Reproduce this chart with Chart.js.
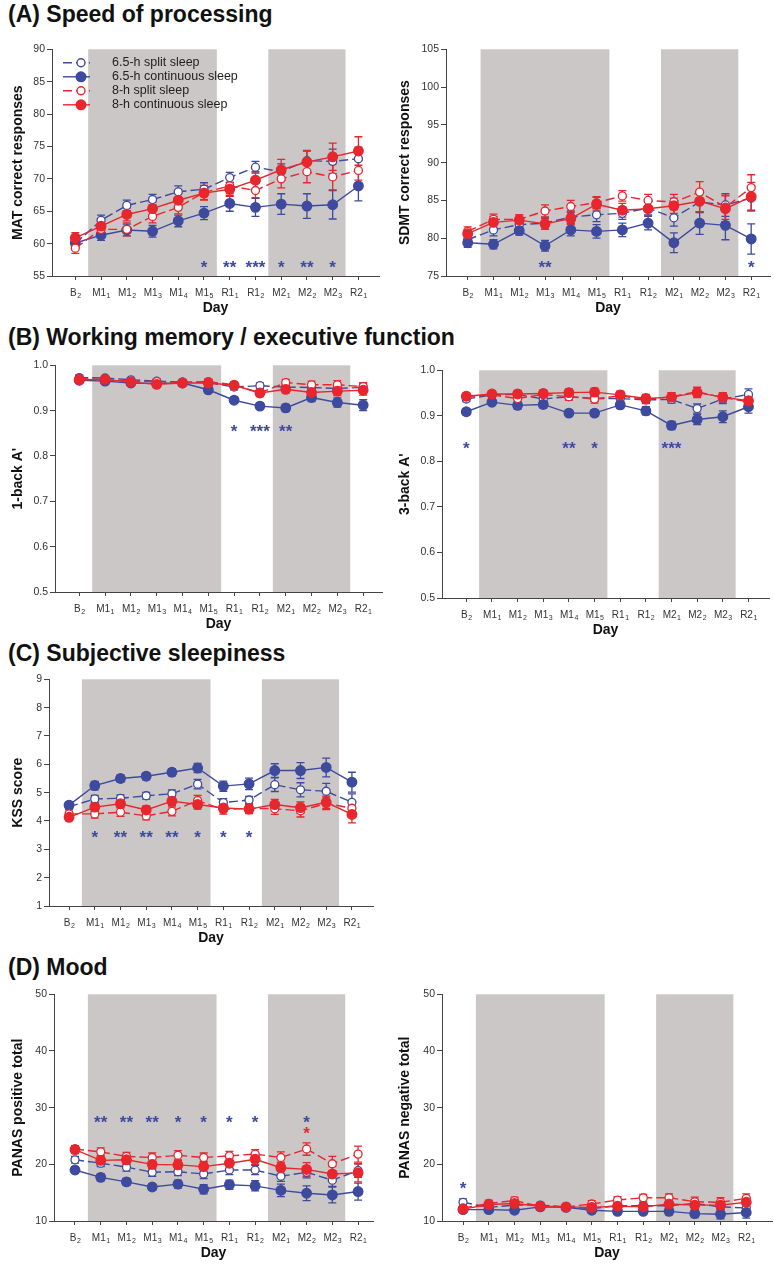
<!DOCTYPE html>
<html>
<head>
<meta charset="utf-8">
<script src="https://cdn.jsdelivr.net/npm/chart.js@4.4.0/dist/chart.umd.min.js"></script>
<style>
  body { margin: 0; background: #fff; width: 774px; height: 1266px; position: relative; overflow: hidden;
         font-family: "Liberation Sans", Arial, sans-serif; }
  .title { position: absolute; left: 8px; font-weight: bold; font-size: 23px; line-height: 23px; color: #111; white-space: nowrap; }
  canvas { position: absolute; }
</style>
</head>
<body>
<div class="title" style="top:3px">(A) Speed of processing</div>
<div class="title" style="top:326px">(B) Working memory / executive function</div>
<div class="title" style="top:642px">(C) Subjective sleepiness</div>
<div class="title" style="top:956px">(D) Mood</div>
<canvas id="mat"></canvas>
<canvas id="sdmt"></canvas>
<canvas id="oneback"></canvas>
<canvas id="threeback"></canvas>
<canvas id="kss"></canvas>
<canvas id="panasPos"></canvas>
<canvas id="panasNeg"></canvas>
<script>
// Days (label + subscript)
const dayBase = ['B', 'M1', 'M1', 'M1', 'M1', 'M1', 'R1', 'R1', 'M2', 'M2', 'M2', 'R2'];
const daySub  = ['2', '1', '2', '3', '4', '5', '1', '2', '1', '2', '3', '1'];
const seriesNames = ['6.5-h split sleep', '6.5-h continuous sleep', '8-h split sleep', '8-h continuous sleep'];
// restricted-sleep weeks (shaded), in day-index units
const shadedSpans = [[0.5, 5.5], [7.5, 10.5]];

// MAT
const matSplit65    = [60.0, 63.6, 65.9, 66.8, 68.0, 68.4, 70.2, 71.8, 71.1, 72.8, 72.7, 73.1];
const matSplit65Err = [0.7, 0.8, 0.8, 0.8, 0.9, 1.0, 0.8, 0.9, 1.2, 1.5, 1.9, 1.8];
const matCont65     = [60.1, 61.3, 62.1, 61.9, 63.5, 64.7, 66.2, 65.6, 66.1, 65.8, 66.0, 68.9];
const matCont65Err  = [0.6, 0.8, 0.9, 0.9, 0.9, 1.0, 1.2, 1.4, 1.6, 1.9, 2.2, 2.3];
const matSplit8     = [59.3, 62.2, 62.2, 64.2, 65.6, 67.9, 68.9, 68.2, 70.0, 71.1, 70.3, 71.3];
const matSplit8Err  = [0.8, 0.9, 1.0, 1.0, 1.0, 1.1, 1.2, 1.1, 1.4, 1.7, 2.0, 1.5];
const matCont8      = [60.9, 62.7, 64.5, 65.4, 66.7, 67.8, 68.4, 69.8, 71.4, 72.6, 73.4, 74.3];
const matCont8Err   = [0.8, 0.9, 1.0, 1.0, 1.0, 1.1, 1.1, 1.3, 1.6, 1.8, 2.1, 2.2];
const matStars      = ['', '', '', '', '', '*', '**', '***', '*', '**', '*', ''];

// SDMT
const sdmtSplit65    = [79.8, 81.1, 81.8, 82.0, 82.8, 83.1, 83.3, 84.0, 82.7, 84.8, 84.4, 85.3];
const sdmtSplit65Err = [0.6, 0.8, 0.8, 0.8, 0.8, 0.9, 0.8, 0.9, 1.1, 1.4, 1.5, 1.6];
const sdmtCont65     = [79.4, 79.2, 81.0, 79.0, 81.1, 80.9, 81.1, 82.0, 79.4, 82.0, 81.7, 79.9];
const sdmtCont65Err  = [0.6, 0.6, 0.6, 0.7, 0.8, 0.9, 0.9, 0.9, 1.3, 1.5, 1.9, 2.0];
const sdmtSplit8     = [80.9, 82.5, 82.5, 83.6, 84.2, 84.7, 85.6, 85.0, 84.8, 86.1, 84.1, 86.7];
const sdmtSplit8Err  = [0.6, 0.7, 0.6, 0.8, 0.8, 0.8, 0.7, 0.8, 1.0, 1.4, 1.6, 1.7];
const sdmtCont8      = [80.6, 82.1, 82.4, 81.9, 82.6, 84.5, 83.7, 83.9, 84.3, 84.9, 83.9, 85.5];
const sdmtCont8Err   = [0.6, 0.8, 0.7, 0.7, 0.8, 0.9, 0.9, 0.9, 1.0, 1.4, 1.7, 1.9];
const sdmtStars      = ['', '', '', '**', '', '', '', '', '', '', '', '*'];

// 1-back A'
const oneSplit65    = [0.973, 0.972, 0.968, 0.965, 0.963, 0.962, 0.952, 0.955, 0.952, 0.951, 0.949, 0.951];
const oneSplit65Err = [0.006, 0.005, 0.005, 0.005, 0.005, 0.006, 0.006, 0.006, 0.007, 0.008, 0.009, 0.009];
const oneCont65     = [0.967, 0.965, 0.961, 0.960, 0.961, 0.946, 0.923, 0.910, 0.906, 0.929, 0.918, 0.912];
const oneCont65Err  = [0.006, 0.006, 0.006, 0.006, 0.006, 0.006, 0.006, 0.007, 0.008, 0.009, 0.010, 0.012];
const oneSplit8     = [0.971, 0.968, 0.965, 0.964, 0.962, 0.964, 0.957, 0.939, 0.962, 0.957, 0.957, 0.953];
const oneSplit8Err  = [0.006, 0.005, 0.005, 0.005, 0.005, 0.006, 0.006, 0.006, 0.007, 0.008, 0.009, 0.009];
const oneCont8      = [0.968, 0.969, 0.963, 0.958, 0.961, 0.961, 0.956, 0.939, 0.947, 0.940, 0.943, 0.945];
const oneCont8Err   = [0.007, 0.007, 0.007, 0.006, 0.006, 0.007, 0.007, 0.008, 0.008, 0.009, 0.010, 0.011];
const oneStars      = ['', '', '', '', '', '', '*', '***', '**', '', '', ''];

// 3-back A'
const threeSplit65    = [0.937, 0.946, 0.947, 0.937, 0.942, 0.938, 0.938, 0.935, 0.936, 0.916, 0.937, 0.947];
const threeSplit65Err = [0.006, 0.006, 0.006, 0.006, 0.006, 0.006, 0.007, 0.007, 0.008, 0.010, 0.010, 0.012];
const threeCont65     = [0.909, 0.930, 0.923, 0.925, 0.906, 0.906, 0.924, 0.911, 0.879, 0.892, 0.898, 0.920];
const threeCont65Err  = [0.007, 0.007, 0.008, 0.008, 0.007, 0.007, 0.008, 0.009, 0.009, 0.011, 0.013, 0.014];
const threeSplit8     = [0.942, 0.946, 0.938, 0.947, 0.942, 0.937, 0.944, 0.936, 0.942, 0.953, 0.940, 0.931];
const threeSplit8Err  = [0.006, 0.006, 0.007, 0.008, 0.008, 0.009, 0.008, 0.009, 0.009, 0.010, 0.010, 0.011];
const threeCont8      = [0.943, 0.948, 0.948, 0.949, 0.951, 0.952, 0.946, 0.938, 0.941, 0.951, 0.941, 0.933];
const threeCont8Err   = [0.007, 0.007, 0.008, 0.008, 0.008, 0.009, 0.008, 0.009, 0.010, 0.011, 0.010, 0.012];
const threeStars      = ['*', '', '', '', '**', '*', '', '', '***', '', '', ''];

// KSS
const kssSplit65    = [4.50, 4.78, 4.80, 4.89, 4.96, 5.30, 4.65, 4.74, 5.28, 5.10, 5.05, 4.66];
const kssSplit65Err = [0.10, 0.12, 0.12, 0.12, 0.14, 0.17, 0.14, 0.13, 0.24, 0.25, 0.28, 0.30];
const kssCont65     = [4.56, 5.25, 5.50, 5.58, 5.72, 5.87, 5.23, 5.31, 5.78, 5.78, 5.89, 5.37];
const kssCont65Err  = [0.10, 0.15, 0.13, 0.13, 0.13, 0.16, 0.18, 0.20, 0.24, 0.28, 0.33, 0.35];
const kssSplit8     = [4.25, 4.25, 4.31, 4.18, 4.34, 4.72, 4.40, 4.45, 4.43, 4.36, 4.62, 4.45];
const kssSplit8Err  = [0.15, 0.15, 0.15, 0.14, 0.16, 0.18, 0.16, 0.17, 0.20, 0.22, 0.22, 0.25];
const kssCont8      = [4.13, 4.49, 4.61, 4.39, 4.70, 4.58, 4.46, 4.42, 4.58, 4.47, 4.66, 4.23];
const kssCont8Err   = [0.12, 0.14, 0.14, 0.14, 0.15, 0.16, 0.14, 0.16, 0.18, 0.20, 0.22, 0.30];
const kssStars      = ['', '*', '**', '**', '**', '*', '*', '*', '', '', '', ''];

// PANAS positive
const posSplit65    = [20.8, 20.2, 19.5, 18.6, 18.7, 18.3, 19.0, 19.0, 17.9, 18.6, 17.2, 18.9];
const posSplit65Err = [0.6, 0.6, 0.7, 0.7, 0.7, 0.8, 0.8, 0.8, 0.9, 1.0, 1.1, 1.2];
const posCont65     = [19.0, 17.7, 16.9, 16.0, 16.5, 15.6, 16.4, 16.2, 15.4, 14.9, 14.6, 15.2];
const posCont65Err  = [0.6, 0.6, 0.6, 0.6, 0.7, 0.8, 0.8, 0.9, 1.1, 1.3, 1.4, 1.5];
const posSplit8     = [22.7, 22.2, 21.4, 21.2, 21.6, 21.2, 21.5, 21.8, 21.2, 22.7, 20.1, 21.8];
const posSplit8Err  = [0.6, 0.7, 0.7, 0.8, 0.8, 0.8, 0.8, 0.8, 1.0, 1.1, 1.3, 1.4];
const posCont8      = [22.6, 20.7, 20.8, 20.0, 19.9, 19.6, 20.2, 20.9, 19.4, 19.1, 18.3, 18.5];
const posCont8Err   = [0.7, 0.8, 0.8, 0.8, 0.8, 0.9, 0.9, 0.9, 1.0, 1.2, 1.3, 1.6];
const posStars      = ['', '**', '**', '**', '*', '*', '*', '*', '', '*', '', ''];
const posStarsRed   = ['', '', '', '', '', '', '', '', '', '*', '', ''];

// PANAS negative
const negSplit65    = [13.3, 12.4, 12.8, 12.8, 12.5, 12.2, 12.7, 12.7, 12.7, 13.1, 12.5, 12.3];
const negSplit65Err = [0.6, 0.5, 0.5, 0.5, 0.5, 0.5, 0.5, 0.6, 0.6, 0.7, 0.8, 0.9];
const negCont65     = [12.0, 12.0, 11.9, 12.5, 12.4, 11.9, 11.7, 11.7, 11.7, 11.3, 11.2, 11.5];
const negCont65Err  = [0.5, 0.5, 0.5, 0.5, 0.5, 0.5, 0.5, 0.5, 0.6, 0.7, 0.8, 1.0];
const negSplit8     = [12.3, 13.1, 13.6, 12.6, 12.5, 13.0, 13.7, 14.1, 14.1, 13.4, 13.3, 14.0];
const negSplit8Err  = [0.5, 0.6, 0.6, 0.5, 0.5, 0.6, 0.6, 0.6, 0.7, 0.8, 0.8, 0.8];
const negCont8      = [12.1, 12.9, 13.1, 12.6, 12.5, 12.4, 12.6, 12.5, 13.0, 12.8, 12.8, 13.3];
const negCont8Err   = [0.5, 0.6, 0.6, 0.5, 0.5, 0.6, 0.6, 0.6, 0.7, 0.7, 0.7, 0.8];
const negStars      = ['*', '', '', '', '', '', '', '', '', '', '', ''];

const BLUE = '#3d4a9e';
const RED = '#e8262d';
const SHADE = '#cbc7c6';
const AXIS = '#444';
const seriesStyles = [
    { color: BLUE, open: true },
    { color: BLUE, open: false },
    { color: RED, open: true },
    { color: RED, open: false },
];

Chart.defaults.font.family = "'Liberation Sans', Arial, sans-serif";

// shading, error bars, subscript day labels, stars and legend
const panelExtras = {
    id: 'panelExtras',
    beforeDraw(chart) {
        const { ctx, chartArea: a, scales: { x } } = chart;
        ctx.save();
        ctx.fillStyle = SHADE;
        shadedSpans.forEach(([s, e]) => {
            const x0 = x.getPixelForValue(s), x1 = x.getPixelForValue(e);
            ctx.fillRect(x0, a.top, x1 - x0, a.bottom - a.top);
        });
        ctx.restore();
    },
    beforeDatasetsDraw(chart) {
        const { ctx, scales: { y } } = chart;
        ctx.save();
        ctx.lineWidth = 1.3;
        chart.data.datasets.forEach((ds, di) => {
            const meta = chart.getDatasetMeta(di);
            ctx.strokeStyle = ds.borderColor;
            ds.errors.forEach((e, i) => {
                const px = meta.data[i].x;
                const v = ds.data[i].y;
                const top = y.getPixelForValue(v + e), bot = y.getPixelForValue(v - e);
                ctx.beginPath();
                ctx.moveTo(px, top); ctx.lineTo(px, bot);
                ctx.moveTo(px - 4, top); ctx.lineTo(px + 4, top);
                ctx.moveTo(px - 4, bot); ctx.lineTo(px + 4, bot);
                ctx.stroke();
            });
        });
        ctx.restore();
    },
    afterDraw(chart, args, opts) {
        const { ctx, chartArea: a, scales: { x, y } } = chart;
        ctx.save();
        // day labels with subscripts
        ctx.fillStyle = '#333';
        ctx.textBaseline = 'alphabetic';
        dayBase.forEach((b, i) => {
            ctx.font = "10px 'Liberation Sans', Arial, sans-serif";
            const wb = ctx.measureText(b).width;
            ctx.font = "7px 'Liberation Sans', Arial, sans-serif";
            const ws = ctx.measureText(daySub[i]).width;
            const x0 = x.getPixelForValue(i) - (wb + ws) / 2;
            ctx.font = "10px 'Liberation Sans', Arial, sans-serif";
            ctx.fillText(b, x0, a.bottom + 19.5);
            ctx.font = "7px 'Liberation Sans', Arial, sans-serif";
            ctx.fillText(daySub[i], x0 + wb + 0.5, a.bottom + 22);
        });
        // significance stars
        ctx.textAlign = 'center';
        ctx.font = "bold 17px 'Liberation Sans', Arial, sans-serif";
        (opts.stars || []).forEach(st => {
            ctx.fillStyle = st.color;
            st.marks.forEach((m, i) => {
                if (!m) return;
                ctx.fillText(m, x.getPixelForValue(i), y.getPixelForValue(st.level) + 10);
            });
        });
        // legend
        if (opts.legend) {
            ctx.textAlign = 'left';
            ctx.textBaseline = 'middle';
            ctx.font = "12.5px 'Liberation Sans', Arial, sans-serif";
            seriesNames.forEach((name, k) => {
                const st = seriesStyles[k];
                const ly = a.top + 13.5 + k * 14;
                ctx.strokeStyle = st.color;
                ctx.lineWidth = 1.4;
                ctx.setLineDash(st.open ? [9, 4] : []);
                ctx.beginPath();
                ctx.moveTo(a.left + 11, ly); ctx.lineTo(a.left + 38, ly);
                ctx.stroke();
                ctx.setLineDash([]);
                ctx.beginPath();
                ctx.arc(a.left + 29, ly, st.open ? 4 : 4.8, 0, Math.PI * 2);
                ctx.fillStyle = st.open ? '#fff' : st.color;
                ctx.fill();
                ctx.stroke();
                ctx.fillStyle = '#222';
                ctx.fillText(name, a.left + 60, ly);
            });
        }
        ctx.restore();
    }
};

function makeDatasets(series) {
    return seriesStyles.map((st, k) => ({
        label: seriesNames[k],
        data: series[k][0].map((v, i) => ({ x: i, y: v })),
        errors: series[k][1],
        borderColor: st.color,
        backgroundColor: st.color,
        pointBackgroundColor: st.open ? '#fff' : st.color,
        pointBorderColor: st.color,
        pointRadius: st.open ? 4 : 4.8,
        pointBorderWidth: 1.3,
        borderWidth: 1.4,
        borderDash: st.open ? [9, 4] : [],
        order: 4 - k,
        tension: 0,
    }));
}

function makePanel(id, p) {
    const canvas = document.getElementById(id);
    const left = Math.round(p.titleX - 12.4);
    const top = Math.round(p.area.t - 8);
    const yw = p.area.l - left;
    canvas.width = Math.round(p.area.r - left + 4);
    canvas.height = Math.round(p.area.b - p.area.t + 8 + 45);
    canvas.style.left = left + 'px';
    canvas.style.top = top + 'px';

    new Chart(canvas.getContext('2d'), {
        type: 'line',
        data: { datasets: makeDatasets(p.series) },
        options: {
            responsive: false,
            animation: false,
            layout: { autoPadding: false, padding: { top: 8, right: 4, left: 0, bottom: 0 } },
            plugins: {
                legend: { display: false },
                tooltip: { enabled: false },
                panelExtras: { stars: p.stars, legend: p.legend },
            },
            scales: {
                x: {
                    type: 'linear',
                    min: p.xMin,
                    max: p.xMax,
                    afterBuildTicks: s => { s.ticks = dayBase.map((d, i) => ({ value: i })); },
                    afterFit: s => { s.height = 45; },
                    ticks: { color: 'rgba(0,0,0,0)', font: { size: 10 } },
                    grid: { drawOnChartArea: false, tickLength: 4, color: AXIS },
                    border: { color: AXIS },
                    title: { display: true, text: 'Day', color: '#111', font: { size: 14, weight: 'bold' }, padding: { top: 4, bottom: 4 } },
                },
                y: {
                    min: p.yMin,
                    max: p.yMax,
                    afterFit: s => { s.width = yw; },
                    ticks: { stepSize: p.yStep, color: '#333', padding: 2, font: { size: 10.5 },
                             callback: v => v.toFixed(p.yDec) },
                    grid: { drawOnChartArea: false, tickLength: 5, color: AXIS },
                    border: { color: AXIS },
                    title: { display: true, text: p.yTitle, color: '#111', font: { size: 14, weight: 'bold' }, padding: { top: 4, bottom: 4 } },
                },
            },
        },
        plugins: [panelExtras],
    });
}

makePanel('mat', {
    area: { l: 52, t: 49, r: 379, b: 276 }, titleX: 18.5,
    xMin: -0.906, xMax: 11.8, yMin: 55, yMax: 90, yStep: 5, yDec: 0,
    yTitle: 'MAT correct responses', legend: true,
    series: [[matSplit65, matSplit65Err], [matCont65, matCont65Err], [matSplit8, matSplit8Err], [matCont8, matCont8Err]],
    stars: [{ marks: matStars, level: 57.0, color: BLUE }],
});
makePanel('sdmt', {
    area: { l: 446, t: 49, r: 770, b: 276 }, titleX: 405,
    xMin: -0.842, xMax: 11.73, yMin: 75, yMax: 105, yStep: 5, yDec: 0,
    yTitle: 'SDMT correct responses',
    series: [[sdmtSplit65, sdmtSplit65Err], [sdmtCont65, sdmtCont65Err], [sdmtSplit8, sdmtSplit8Err], [sdmtCont8, sdmtCont8Err]],
    stars: [{ marks: sdmtStars, level: 76.7, color: BLUE }],
});
makePanel('oneback', {
    area: { l: 55, t: 365, r: 382, b: 592 }, titleX: 18.5,
    xMin: -0.94, xMax: 11.73, yMin: 0.5, yMax: 1.0, yStep: 0.1, yDec: 1,
    yTitle: "1-back A'",
    series: [[oneSplit65, oneSplit65Err], [oneCont65, oneCont65Err], [oneSplit8, oneSplit8Err], [oneCont8, oneCont8Err]],
    stars: [{ marks: oneStars, level: 0.864, color: BLUE }],
});
makePanel('threeback', {
    area: { l: 442, t: 370, r: 769, b: 598 }, titleX: 405,
    xMin: -0.947, xMax: 11.8, yMin: 0.5, yMax: 1.0, yStep: 0.1, yDec: 1,
    yTitle: "3-back A'",
    series: [[threeSplit65, threeSplit65Err], [threeCont65, threeCont65Err], [threeSplit8, threeSplit8Err], [threeCont8, threeCont8Err]],
    stars: [{ marks: threeStars, level: 0.838, color: BLUE }],
});
makePanel('kss', {
    area: { l: 49, t: 679, r: 373, b: 906 }, titleX: 18.5,
    xMin: -0.78, xMax: 11.82, yMin: 1, yMax: 9, yStep: 1, yDec: 0,
    yTitle: 'KSS score',
    series: [[kssSplit65, kssSplit65Err], [kssCont65, kssCont65Err], [kssSplit8, kssSplit8Err], [kssCont8, kssCont8Err]],
    stars: [{ marks: kssStars, level: 3.58, color: BLUE }],
});
makePanel('panasPos', {
    area: { l: 54, t: 994, r: 373, b: 1221 }, titleX: 18.5,
    xMin: -0.816, xMax: 11.58, yMin: 10, yMax: 50, yStep: 10, yDec: 0,
    yTitle: 'PANAS positive total',
    series: [[posSplit65, posSplit65Err], [posCont65, posCont65Err], [posSplit8, posSplit8Err], [posCont8, posCont8Err]],
    stars: [{ marks: posStars, level: 28.2, color: BLUE }, { marks: posStarsRed, level: 26.2, color: RED }],
});
makePanel('panasNeg', {
    area: { l: 442, t: 994, r: 772, b: 1221 }, titleX: 405,
    xMin: -0.817, xMax: 12.0, yMin: 10, yMax: 50, yStep: 10, yDec: 0,
    yTitle: 'PANAS negative total',
    series: [[negSplit65, negSplit65Err], [negCont65, negCont65Err], [negSplit8, negSplit8Err], [negCont8, negCont8Err]],
    stars: [{ marks: negStars, level: 16.6, color: BLUE }],
});
</script>
</body>
</html>
